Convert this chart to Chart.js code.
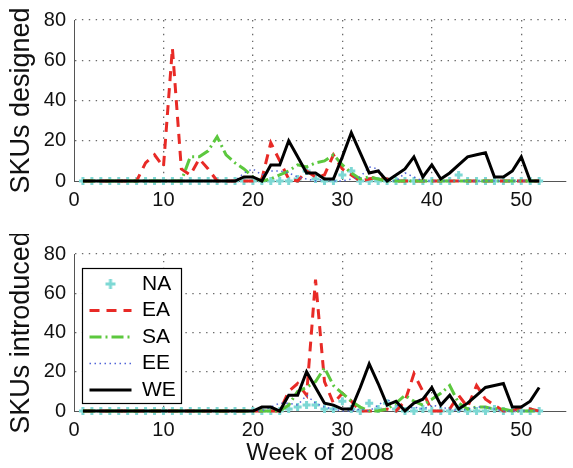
<!DOCTYPE html>
<html><head><meta charset="utf-8">
<script src="https://cdn.jsdelivr.net/npm/chart.js@4/dist/chart.umd.min.js"></script>
<style>
html,body{margin:0;padding:0;background:#fff;}
#wrap{position:relative;width:573px;height:468px;overflow:hidden;}
canvas{position:absolute;left:0;}
#c1{top:0;} #c2{top:234px;}
</style></head><body>
<div id="wrap"><canvas id="c1" width="573" height="234"></canvas><canvas id="c2" width="573" height="234"></canvas></div>
<script>
// ---------- data ----------
const weeks = [1,2,3,4,5,6,7,8,9,10,11,12,13,14,15,16,17,18,19,20,21,22,23,24,25,26,
               27,28,29,30,31,32,33,34,35,36,37,38,39,40,41,42,43,44,45,46,47,48,49,50,51,52];
const seriesNames = ['NA','EA','SA','EE','WE'];
const xTickValues = [0,10,20,30,40,50];
const yTickValues = [0,20,40,60,80];
const yTitles = ['SKUs designed','SKUs introduced'];
const xTitle = 'Week of 2008';

// SKUs designed
const naDesigned = [0,0,0,0,0,0,0,0,0,0,0,0,0,0,0,0,0,0,0,0,0,0,0,0,1,5,1,0,0,3,5,0,0,0,0,0,0,0,0,0,0,0,3,0,0,0,0,0,0,0,0,0];
const eaDesigned = [0,0,0,0,0,0,0,9,13,7,66,6,3,11,6,0,0,0,0,0,1,19,10,1,0,5,2,3,13,6,3,0,1,2,1,0,0,0,0,0,0,0,0,0,0,0,0,0,0,0,0,0];
const saDesigned = [0,0,0,0,0,0,0,0,0,0,0,0,12,12,15,22,13,9,6,2,0,1,3,5,8,7,9,10,13,8,4,1,2,1,0,0,0,0,0,0,0,0,0,0,0,0,0,0,0,0,0,0];
const eeDesigned = [0,0,0,0,0,0,0,0,0,0,0,0,0,0,0,0,0,0,4,6,3,5,5,4,2,1,0,1,0,0,1,2,7,6,0,0,4,2,0,0,0,0,0,0,0,0,0,0,0,0,0,0];
const weDesigned = [0,0,0,0,0,0,0,0,0,0,0,0,0,0,0,0,0,0,2,2,0,8,8,20,12,4,4,1,1,12,24,14,4,5,0,3,6,12,2,8,1,4,8,12,13,14,2,2,5,12,0,0];

// SKUs introduced
const naIntro = [0,0,0,0,0,0,0,0,0,0,0,0,0,0,0,0,0,0,0,0,0,0,0,1,2,3,3,1,1,5,1,0,4,1,4,1,0,0,1,0,0,0,1,0,0,0,1,0,0,0,0,0];
const eaIntro = [0,0,0,0,0,0,0,0,0,0,0,0,0,0,0,0,0,0,0,0,0,0,0,10,14,8,67,15,4,9,5,0,0,0,1,0,5,19,10,0,0,1,8,2,13,6,3,0,0,2,1,0];
const saIntro = [0,0,0,0,0,0,0,0,0,0,0,0,0,0,0,0,0,0,0,0,0,0,0,3,10,12,15,22,13,9,5,2,0,0,1,4,8,5,3,6,9,13,4,1,2,2,1,1,0,0,0,0];
const eeIntro = [0,0,0,0,0,0,0,0,0,0,0,0,0,0,0,0,0,0,0,0,0,2,4,4,3,8,4,2,1,0,0,1,0,3,6,3,1,2,1,3,2,1,0,1,2,2,1,0,0,0,0,0];
const weIntro = [0,0,0,0,0,0,0,0,0,0,0,0,0,0,0,0,0,0,0,0,2,2,0,8,8,20,12,4,3,1,1,12,24,14,3,5,0,4,6,12,3,8,1,4,8,12,13,14,2,2,5,12];

// ---------- styles ----------
const FONT = "'Liberation Sans', Arial, Helvetica, sans-serif";
const CYAN = 'rgb(125,216,212)';
const RED = 'rgb(232,42,38)';
const GREEN = 'rgb(92,200,62)';
const BLUE = 'rgb(80,100,215)';
const BLACK = '#000';
const GRID = '#6a6a6a';

const styles = [
  {borderColor: CYAN, backgroundColor: CYAN, showLine: false, pointStyle: 'cross', pointRadius: 4, pointBorderWidth: 3, order: 4},
  {borderColor: RED, borderDash: [10,7], borderWidth: 3, pointRadius: 0, order: 3},
  {borderColor: GREEN, borderDash: [12,4,2,4], borderWidth: 3, pointRadius: 0, order: 2},
  {borderColor: BLUE, borderDash: [1.5,3.5], borderWidth: 1.5, pointRadius: 0, order: 1},
  {borderColor: BLACK, borderWidth: 3, pointRadius: 0, order: 0}
];

// plus marker image for legend
const plusImg = document.createElement('canvas');
plusImg.width = 14; plusImg.height = 14;
(function(){
  const c = plusImg.getContext('2d');
  c.strokeStyle = CYAN; c.lineWidth = 3;
  c.beginPath(); c.moveTo(7,2); c.lineTo(7,12); c.moveTo(2,7); c.lineTo(12,7); c.stroke();
})();

function buildDatasets(valueLists) {
  return valueLists.map((vals, i) => Object.assign({
    label: seriesNames[i],
    data: vals.map((v, k) => ({x: weeks[k], y: v})),
    tension: 0, clip: false, pointHoverRadius: 0, fill: false
  }, styles[i]));
}

// legend frame: position of the boxed legend inside the lower chart (canvas px)
const LEGEND_BOX = {left: 82, top: 34, width: 99, height: 135};
const legendFrame = {
  id: 'legendFrame',
  afterLayout(chart) {
    const lg = chart.legend;
    if (!lg || !lg.options.display) return;
    lg.left = LEGEND_BOX.left + 2; lg.top = LEGEND_BOX.top;
    lg.width = LEGEND_BOX.width - 2; lg.height = LEGEND_BOX.height + 40;
    lg.right = lg.left + lg.width; lg.bottom = lg.top + lg.height;
    if (!lg._framed) {
      const orig = lg.draw;
      lg.draw = function() {
        const ctx = this.ctx;
        ctx.save();
        ctx.fillStyle = '#fff';
        ctx.fillRect(LEGEND_BOX.left, LEGEND_BOX.top, LEGEND_BOX.width, LEGEND_BOX.height);
        ctx.strokeStyle = '#000'; ctx.lineWidth = 1.2; ctx.setLineDash([]);
        ctx.strokeRect(LEGEND_BOX.left + 0.5, LEGEND_BOX.top + 0.5, LEGEND_BOX.width, LEGEND_BOX.height);
        ctx.restore();
        orig.apply(this, arguments);
      };
      lg._framed = true;
    }
  }
};

function makeChart(canvasId, valueLists, opt) {
  return new Chart(document.getElementById(canvasId), {
    type: 'line',
    data: {datasets: buildDatasets(valueLists)},
    plugins: [legendFrame],
    options: {
      responsive: false, animation: false, events: [], devicePixelRatio: 1,
      layout: {padding: {top: opt.padTop, left: 0, right: 0, bottom: 0}},
      plugins: {
        tooltip: {enabled: false},
        title: {display: false},
        legend: {
          display: opt.legend, position: 'chartArea', align: 'start',
          labels: {
            usePointStyle: true, pointStyleWidth: 42, padding: 5.5, color: '#000',
            font: {family: FONT, size: 21},
            generateLabels(chart) {
              return chart.data.datasets.map((d, i) => ({
                text: d.label, datasetIndex: i, hidden: false, fontColor: '#000',
                fillStyle: 'rgba(0,0,0,0)', strokeStyle: d.borderColor,
                lineWidth: d.showLine === false ? 0 : d.borderWidth,
                lineDash: d.borderDash || [],
                pointStyle: d.showLine === false ? plusImg : 'line'
              }));
            }
          }
        }
      },
      scales: {
        x: {
          type: 'linear', min: 0, max: 55,
          afterBuildTicks(s) { s.ticks = xTickValues.map(v => ({value: v})); },
          afterFit(s) { s.height = opt.xHeight; },
          ticks: {color: '#111', font: {family: FONT, size: 20}, padding: 7, maxRotation: 0, autoSkip: false},
          grid: {drawTicks: false, color: c => (c.tick && c.tick.value === 0) ? 'rgba(0,0,0,0)' : GRID, lineWidth: 1.3},
          border: {display: true, color: '#555', width: 1, dash: [1.4,5.5]},
          title: {display: !!opt.xTitle, text: opt.xTitle || '', color: '#111', font: {family: FONT, size: 24}, padding: {top: 0, bottom: 0}}
        },
        y: {
          type: 'linear', min: 0, max: 80,
          afterBuildTicks(s) { s.ticks = yTickValues.map(v => ({value: v})); },
          afterFit(s) { s.width = 74; },
          ticks: {color: '#111', font: {family: FONT, size: 20}, padding: 8},
          grid: {drawTicks: false, color: c => (c.tick && c.tick.value === 0) ? 'rgba(0,0,0,0)' : GRID, lineWidth: 1.3},
          border: {display: true, color: '#555', width: 1, dash: [1.4,5.5]},
          title: {display: true, text: opt.yTitle, color: '#111', font: {family: FONT, size: 27}, padding: {top: 5, bottom: 0}}
        }
      }
    }
  });
}

makeChart('c1', [naDesigned, eaDesigned, saDesigned, eeDesigned, weDesigned],
  {padTop: 20, xHeight: 53, legend: false, yTitle: yTitles[0]});
makeChart('c2', [naIntro, eaIntro, saIntro, eeIntro, weIntro],
  {padTop: 16, xHeight: 57, legend: true, yTitle: yTitles[1], xTitle: xTitle});
</script>
</body></html>
